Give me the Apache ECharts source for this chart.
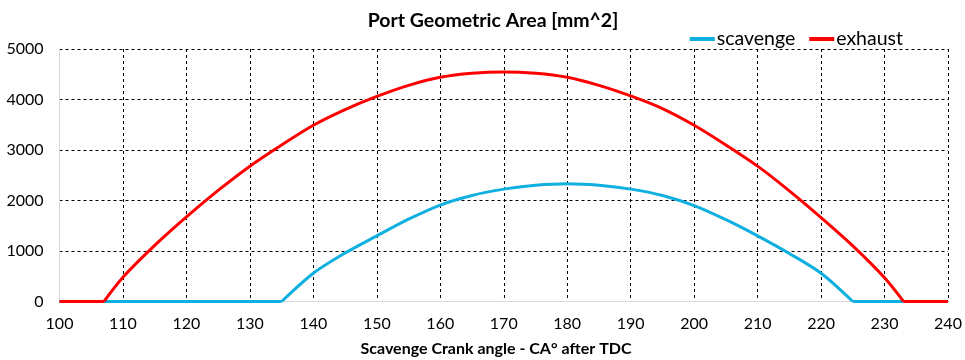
<!DOCTYPE html>
<html><head><meta charset="utf-8">
<script src="https://cdn.jsdelivr.net/npm/echarts@6/dist/echarts.min.js"></script>
<style>html,body{margin:0;padding:0;background:#fff}#c{width:965px;height:360px}</style>
</head><body><div id="c"></div>
<script>
const xTicks = [100,110,120,130,140,150,160,170,180,190,200,210,220,230,240];
const yTicks = [0,1000,2000,3000,4000,5000];
const scavengeAngles = [100,135,140,145,150,155,160,165,170,175,180,185,190,195,200,205,210,215,220,225,240];
const scavengeArea   = [0,0,560,960,1300,1630,1910,2100,2225,2300,2330,2300,2225,2100,1900,1620,1300,950,560,0,0];
const exhaustAngles = [100,107,110,115,120,125,130,135,140,145,150,155,160,165,170,175,180,185,190,195,200,205,210,215,220,225,230,233,240];
const exhaustArea   = [0,0,480,1110,1675,2200,2680,3100,3490,3800,4060,4280,4440,4520,4545,4520,4440,4280,4070,3820,3490,3100,2680,2190,1660,1100,470,0,0];

const FONT = 'Lato';
// split a series into its zero-valued flat ends and its lifted (smooth) arc
function parts(xs, ys) {
  let a = 0; while (ys[a + 1] === 0) a++;
  let b = ys.length - 1; while (ys[b - 1] === 0) b--;
  const arc = [];
  for (let i = a; i <= b; i++) arc.push([xs[i], ys[i]]);
  const flat = [];
  for (let i = 0; i <= a; i++) flat.push([xs[i], ys[i]]);
  flat.push('-');
  for (let i = b; i < xs.length; i++) flat.push([xs[i], ys[i]]);
  return {arc, flat};
}
const sc = parts(scavengeAngles, scavengeArea);
const ex = parts(exhaustAngles, exhaustArea);
const BLUE = '#0fb0e0', RED = '#ff0000';
const lineSeries = (name, data, color, smooth) => ({
  name, type: 'line', data, showSymbol: false, symbol: 'none', smooth,
  connectNulls: false,
  lineStyle: {color, width: 3, join: 'round'}, itemStyle: {color}
});
const chart = echarts.init(document.getElementById('c'), null, {renderer: 'canvas'});
chart.setOption({
  animation: false,
  backgroundColor: '#fff',
  title: [{
    text: 'Port Geometric Area [mm^2]',
    left: 488, top: 6, textAlign: 'center',
    textStyle: {fontFamily: FONT, fontWeight: 'bold', fontSize: 19.5, color: '#000'}
  }, {
    text: 'Scavenge Crank angle - CA° after TDC',
    left: 491, top: 336, textAlign: 'center',
    textStyle: {fontFamily: FONT, fontWeight: 'bold', fontSize: 16, color: '#000'}
  }],
  legend: {
    right: 57, top: 24, itemWidth: 25, itemHeight: 4, itemGap: 14,
    icon: 'rect',
    textStyle: {fontFamily: FONT, fontSize: 19.5, color: '#000', padding: [0,0,0,-3]},
    data: ['scavenge', 'exhaust']
  },
  grid: {left: 59.5, right: 17, top: 49, bottom: 58.5, containLabel: false},
  xAxis: {
    type: 'value', min: 100, max: 240, interval: 10,
    axisLine: {show: true, lineStyle: {color: '#d9d9d9', width: 1}},
    axisTick: {show: false},
    axisLabel: {fontFamily: FONT, fontSize: 16, color: '#000', margin: 14,
      formatter: v => xTicks.includes(v) ? String(v) : ''},
    splitLine: {show: true, lineStyle: {color: '#000', type: [3, 3], width: 1}}
  },
  yAxis: {
    type: 'value', min: 0, max: 5000, interval: 1000,
    axisLine: {show: true, lineStyle: {color: '#d9d9d9', width: 1}},
    axisTick: {show: false},
    axisLabel: {fontFamily: FONT, fontSize: 16, color: '#000', margin: 16,
      formatter: v => yTicks.includes(v) ? String(v) : ''},
    splitLine: {show: true, lineStyle: {color: '#000', type: [3, 3], width: 1}}
  },
  series: [
    lineSeries('scavenge', sc.arc, BLUE, 0.3),
    lineSeries('scavenge', sc.flat, BLUE, false),
    lineSeries('exhaust', ex.arc, RED, 0.3),
    lineSeries('exhaust', ex.flat, RED, false)
  ]
});
</script></body></html>
